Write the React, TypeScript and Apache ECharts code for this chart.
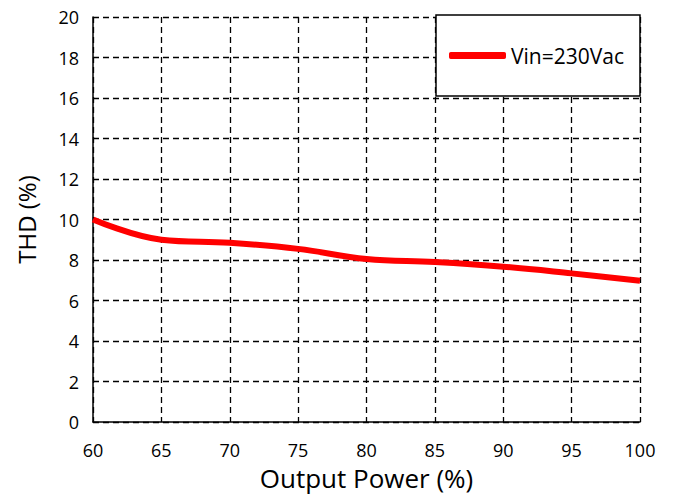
import React, { useEffect, useRef } from "react";
import * as echarts from "echarts";

const xValues = [60, 65, 70, 75, 80, 85, 90, 95, 100];
const thd230 = [10.0, 9.0, 8.85, 8.55, 8.05, 7.9, 7.67, 7.34, 6.98];
const seriesName = "Vin=230Vac";

export default function App() {
  const ref = useRef<HTMLDivElement>(null);
  useEffect(() => {
    if (!ref.current) return;
    const chart = echarts.init(ref.current, undefined, { renderer: "svg" });
    const font = "'Open Sans', 'Noto Sans', sans-serif";
    chart.setOption({
      animation: false,
      backgroundColor: "#fff",
      grid: {
        left: 93,
        right: 35,
        top: 17,
        bottom: 73,
        show: false,
        containLabel: false,
        outerBoundsMode: "none",
      },
      legend: {
        data: [{ name: seriesName, icon: "roundRect" }],
        left: 436,
        top: 15,
        padding: [30, 16, 30, 13],
        backgroundColor: "#fff",
        borderColor: "#000",
        borderWidth: 1.5,
        itemWidth: 57,
        itemHeight: 7,
        textStyle: { fontFamily: font, fontSize: 21, color: "#000" },
      },
      xAxis: {
        type: "value",
        min: 60,
        max: 100,
        interval: 5,
        name: "Output Power (%)",
        nameLocation: "middle",
        nameGap: 41,
        nameTextStyle: { fontFamily: font, fontSize: 26, color: "#000", lineHeight: 28 },
        axisLine: { show: true, lineStyle: { color: "#000", width: 1.5 } },
        axisTick: { show: false },
        axisLabel: { fontFamily: font, fontSize: 18, color: "#000", margin: 19 },
        splitLine: { show: true, lineStyle: { color: "#000", type: [6, 4], width: 1.3 } },
      },
      yAxis: {
        type: "value",
        min: 0,
        max: 20,
        interval: 2,
        name: "THD (%)",
        nameLocation: "middle",
        nameGap: 55,
        nameTextStyle: { fontFamily: font, fontSize: 24, color: "#000" },
        axisLine: { show: true, lineStyle: { color: "#000", width: 1.5 } },
        axisTick: { show: false },
        axisLabel: { fontFamily: font, fontSize: 18, color: "#000", margin: 14 },
        splitLine: { show: true, lineStyle: { color: "#000", type: [6, 4], width: 1.3 } },
      },
      series: [
        {
          name: seriesName,
          type: "line",
          data: xValues.map((x, i) => [x, thd230[i]]),
          smooth: 0.4,
          showSymbol: false,
          symbol: "none",
          lineStyle: { color: "#ff0000", width: 6 },
          itemStyle: { color: "#ff0000" },
        },
      ],
    });
    return () => chart.dispose();
  }, []);
  return (
    <div
      ref={ref}
      style={{ position: "fixed", left: 0, top: 0, width: 675, height: 495 }}
    />
  );
}
